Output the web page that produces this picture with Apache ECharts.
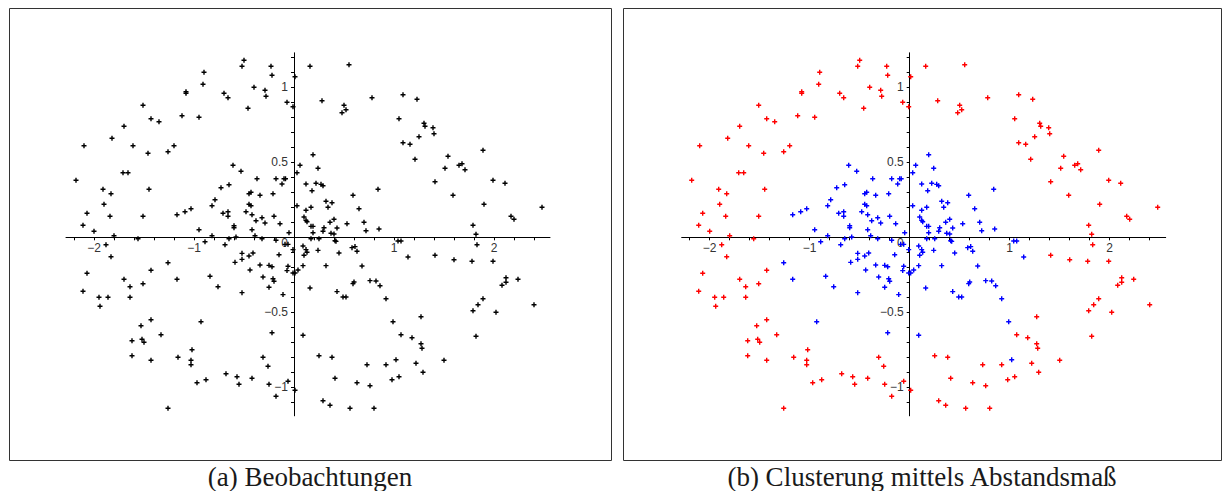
<!DOCTYPE html>
<html>
<head>
<meta charset="utf-8">
<script src="https://cdn.jsdelivr.net/npm/echarts@6/dist/echarts.min.js"></script>
<style>
  html, body { margin: 0; padding: 0; background: #fff; }
  #chart { width: 1225px; height: 491px; }
</style>
</head>
<body>
<div id="chart"></div>
<script>
// Observations belonging to the outer ring cluster
const outerRing = [
  [-0.90,1.10],[-0.91,1.02],[-1.08,0.97],[-1.08,0.96],[-0.70,0.96],[-0.66,0.93],[-1.51,0.88],[-1.43,0.79],[-1.35,0.77],[-1.12,0.81],
  [-0.95,0.80],[-1.70,0.74],[-1.82,0.66],[-2.10,0.61],[-1.61,0.61],[-1.46,0.56],[-1.26,0.57],[-1.20,0.61],[-1.71,0.43],[-1.66,0.43],
  [-0.50,1.18],[-0.52,1.14],[-0.23,1.14],[-0.22,1.08],[-0.40,1.00],[-0.29,0.98],[-0.28,0.94],[-0.46,0.86],[-0.07,0.90],[-0.01,0.87],
  [0.01,1.07],[0.16,1.14],[0.55,1.15],[0.28,0.91],[0.50,0.88],[0.52,0.85],[0.48,0.83],[0.78,0.93],
  [1.09,0.95],[1.23,0.92],[1.05,0.79],[1.30,0.76],[1.31,0.74],[1.39,0.73],[1.40,0.69],[1.25,0.67],[1.09,0.63],[1.16,0.62],
  [1.21,0.52],[1.54,0.54],[1.89,0.58],[1.51,0.46],[1.65,0.48],[1.68,0.49],[1.71,0.45],
  [-2.18,0.38],[-1.91,0.32],[-1.83,0.29],[-1.45,0.32],[-1.90,0.22],[-2.07,0.16],[-1.84,0.14],[-1.51,0.14],[-2.11,0.08],[-2.00,0.04],
  [-1.80,0.01],[-1.56,-0.01],[-1.88,-0.05],[-1.83,-0.13],[-2.07,-0.24],[-1.43,-0.22],[-1.70,-0.28],[-1.64,-0.33],[-1.51,-0.31],[-2.11,-0.36],
  [-1.95,-0.40],[-1.86,-0.40],[-1.64,-0.40],
  [1.41,0.37],[1.99,0.38],[2.11,0.36],[1.59,0.28],[1.90,0.22],[2.48,0.20],[2.17,0.14],[2.20,0.12],[1.79,0.08],[1.82,0.02],
  [1.83,-0.05],[1.41,-0.12],[1.60,-0.15],[1.78,-0.16],[1.99,-0.16],[2.12,-0.27],[2.12,-0.30],[2.24,-0.28],[2.08,-0.32],[1.89,-0.41],
  [1.84,-0.45],[1.79,-0.49],[2.02,-0.50],[2.40,-0.45],[1.27,-0.53],[1.07,-0.65],[1.18,-0.67],[1.82,-0.66],[1.27,-0.71],[1.28,-0.74],
  [1.50,-0.82],[1.22,-0.84],[1.29,-0.90],[0.98,-0.95],[1.05,-0.93],
  [-1.94,-0.46],[-1.43,-0.55],[-1.53,-0.59],[-1.33,-0.65],[-1.62,-0.69],[-1.52,-0.68],[-1.50,-0.70],[-1.02,-0.75],[-1.62,-0.79],[-1.43,-0.82],
  [-1.16,-0.80],[-1.03,-0.82],[-1.03,-0.85],[-0.68,-0.91],[-0.97,-0.97],[-0.88,-0.95],[-1.26,-1.14],
  [-0.31,-0.80],[-0.26,-0.86],[-0.57,-0.93],[-0.55,-0.98],[-0.42,-0.94],[-0.25,-0.98],[-0.18,-1.06],[-0.06,-0.96],[0.01,-1.02],[0.25,-0.79],
  [0.38,-0.80],[0.41,-0.94],[0.63,-0.97],[0.76,-0.99],[0.73,-0.85],[0.92,-0.85],[0.29,-1.09],[0.36,-1.12],[0.56,-1.14],[0.80,-1.14]
];

// Observations belonging to the inner cluster
const innerCluster = [
  [-0.61,0.48],[-0.53,0.44],[0.06,0.48],[0.19,0.55],[0.24,0.46],[0.03,0.43],
  [-0.73,0.33],[-0.79,0.25],[-0.82,0.21],[-1.03,0.19],[-1.09,0.17],[-1.17,0.15],[-0.71,0.16],[-0.95,0.05],[-0.82,0.01],[-0.89,-0.03],
  [-0.69,-0.05],[-1.26,-0.17],[-1.17,-0.28],[-0.84,-0.26],[-0.76,-0.33],
  [-0.65,0.35],[-0.37,0.39],[-0.18,0.39],[-0.10,0.39],[-0.085,0.39],[-0.12,0.355],[0.12,0.355],[0.22,0.36],[0.27,0.353],[0.29,0.344],
  [0.18,0.31],[-0.43,0.30],[-0.45,0.29],[-0.34,0.28],[-0.21,0.29],[0.59,0.28],[0.84,0.32],[0.32,0.24],[0.38,0.23],[0.03,0.21],
  [-0.45,0.22],[-0.43,0.21],[0.17,0.20],[0.34,0.20],[0.12,0.18],[0.65,0.19],[-0.66,0.17],[-0.66,0.14],[-0.48,0.17],[-0.42,0.15],
  [-0.20,0.14],[-0.32,0.13],[-0.38,0.11],[-0.29,0.095],[-0.14,0.09],[0.10,0.135],[0.12,0.113],[0.13,0.104],[0.40,0.12],[0.36,0.10],
  [0.53,0.09],[0.70,0.10],[0.17,0.073],[0.19,0.073],[0.30,0.064],[0.43,0.062],[0.72,0.044],[0.85,0.055],[-0.60,0.077],[-0.60,0.064],
  [-0.42,0.05],[-0.05,0.03],[0.19,0.03],[0.29,0.04],[0.37,0.027],[0.40,0.022],[-0.39,0.01],[-0.58,0.002],[-0.65,-0.01],[-0.32,-0.01],
  [-0.18,-0.02],[0.17,-0.01],[0.25,-0.01],[0.41,-0.023],[0.42,-0.027],[-0.09,-0.047],[-0.06,-0.047],[0.09,-0.058],[-0.01,-0.082],[0.12,-0.082],
  [0.13,-0.10],[0.10,-0.12],[0.24,-0.087],[0.45,-0.105],[0.58,-0.069],[0.61,-0.062],[0.63,-0.093],[-0.52,-0.107],[-0.52,-0.147],[-0.45,-0.125],
  [-0.41,-0.105],[-0.59,-0.167],[-0.15,-0.116],[-0.34,-0.185],[-0.25,-0.187],[-0.22,-0.196],[-0.06,-0.193],[-0.07,-0.222],[-0.44,-0.218],[0.09,-0.189],
  [0.32,-0.189],[0.68,-0.191],[-0.01,-0.238],[0.01,-0.238],[0.04,-0.218],[-0.31,-0.265],[-0.21,-0.276],[-0.20,-0.293],[-0.25,-0.333],[0.16,-0.338],
  [0.60,-0.298],[0.59,-0.309],[0.76,-0.289],[0.82,-0.291],[0.86,-0.323],[-0.52,-0.369],[-0.11,-0.382],[0.43,-0.362],[0.49,-0.398],[0.52,-0.398],
  [0.92,-0.41],[0.99,-0.563],[1.02,-0.816],[-0.22,-0.636],[0.09,-0.653],[-0.93,-0.563],[1.04,-0.025],[1.07,-0.025],[1.14,-0.131]
];

// Axis ranges and tick positions
const xRange = [-2.28, 2.56];
const yRange = [-1.19, 1.23];
const xLabelValues = [-2, -1, 1, 2];
const yLabelValues = [-1, -0.5, 0, 0.5, 1];
const xTickValues = [-2.2,-2,-1.8,-1.6,-1.4,-1.2,-1,-0.8,-0.6,-0.4,-0.2,0.2,0.4,0.6,0.8,1,1.2,1.4,1.6,1.8,2,2.2,2.4];
const yTickValues = [-1.1,-1,-0.9,-0.8,-0.7,-0.6,-0.5,-0.4,-0.3,-0.2,-0.1,0.1,0.2,0.3,0.4,0.5,0.6,0.7,0.8,0.9,1,1.1,1.2];

const captions = ['(a) Beobachtungen', '(b) Clusterung mittels Abstandsmaß'];

// Plot area size and placement of the two panels
const plotW = 484, plotH = 363, plotTop = 52.8;
const plotLefts = [66, 681.7];

const plusSymbol = 'path://M1.8,0H3.2V1.8H5V3.2H3.2V5H1.8V3.2H0V1.8H1.8Z';
const labelFont = 'Liberation Sans';
const captionFamily = 'Liberation Serif';
const fmt = v => (v < 0 ? '\u2212' + String(-v) : String(v));

// Axes cross at the origin: shift each axis from the plot edge to the zero line
const xAxisShift = -(0 - yRange[0]) / (yRange[1] - yRange[0]) * plotH;
const yAxisShift = -(0 - xRange[0]) / (xRange[1] - xRange[0]) * plotW;

function xAxisFor(gridIndex) {
  return {
    type: 'value', gridIndex, min: xRange[0], max: xRange[1],
    position: 'bottom', offset: xAxisShift,
    splitLine: { show: false },
    axisLine: { onZero: false, lineStyle: { color: '#000', width: 1 } },
    axisTick: { show: true, inside: false, length: 3, customValues: xTickValues,
                lineStyle: { color: '#000', width: 1 } },
    axisLabel: { customValues: xLabelValues, formatter: fmt, margin: 5,
                 color: '#333', fontSize: 12, fontFamily: labelFont }
  };
}
function yAxisFor(gridIndex) {
  return {
    type: 'value', gridIndex, min: yRange[0], max: yRange[1],
    position: 'left', offset: yAxisShift,
    splitLine: { show: false },
    axisLine: { onZero: false, lineStyle: { color: '#000', width: 1 } },
    axisTick: { show: true, inside: false, length: 3, customValues: yTickValues,
                lineStyle: { color: '#000', width: 1 } },
    axisLabel: { customValues: yLabelValues, margin: 6,
                 formatter: v => (v === 0 ? '{z|0}' : fmt(v)),
                 rich: { z: { padding: [12, 0, 0, 0], color: '#333', fontSize: 12, fontFamily: labelFont } },
                 color: '#333', fontSize: 12, fontFamily: labelFont }
  };
}

function pointSeries(data, color, idx) {
  return {
    type: 'scatter', xAxisIndex: idx, yAxisIndex: idx, data,
    symbol: plusSymbol, symbolSize: 5,
    itemStyle: { color, opacity: 1 }, silent: true, animation: false
  };
}

function caption(text, x) {
  return { type: 'text', x, y: 477, silent: true,
    style: { text, align: 'center', verticalAlign: 'middle',
             fontSize: 27, fontFamily: captionFamily, fill: '#1a1a1a' } };
}

const chart = echarts.init(document.getElementById('chart'), null, { renderer: 'svg' });
chart.setOption({
  backgroundColor: '#fff',
  animation: false,
  grid: plotLefts.map(left => ({ left, top: plotTop, width: plotW, height: plotH })),
  xAxis: [xAxisFor(0), xAxisFor(1)],
  yAxis: [yAxisFor(0), yAxisFor(1)],
  series: [
    pointSeries(outerRing.concat(innerCluster), '#000', 0),
    pointSeries(outerRing, '#ff0000', 1),
    pointSeries(innerCluster, '#0000ff', 1)
  ],
  graphic: [
    { type: 'rect', shape: { x: 9.5, y: 8.5, width: 602, height: 452 },
      style: { fill: 'none', stroke: '#333', lineWidth: 1 }, silent: true },
    { type: 'rect', shape: { x: 623.5, y: 8.5, width: 598, height: 452 },
      style: { fill: 'none', stroke: '#333', lineWidth: 1 }, silent: true },
    caption(captions[0], 310),
    caption(captions[1], 922)
  ]
});
</script>
</body>
</html>
